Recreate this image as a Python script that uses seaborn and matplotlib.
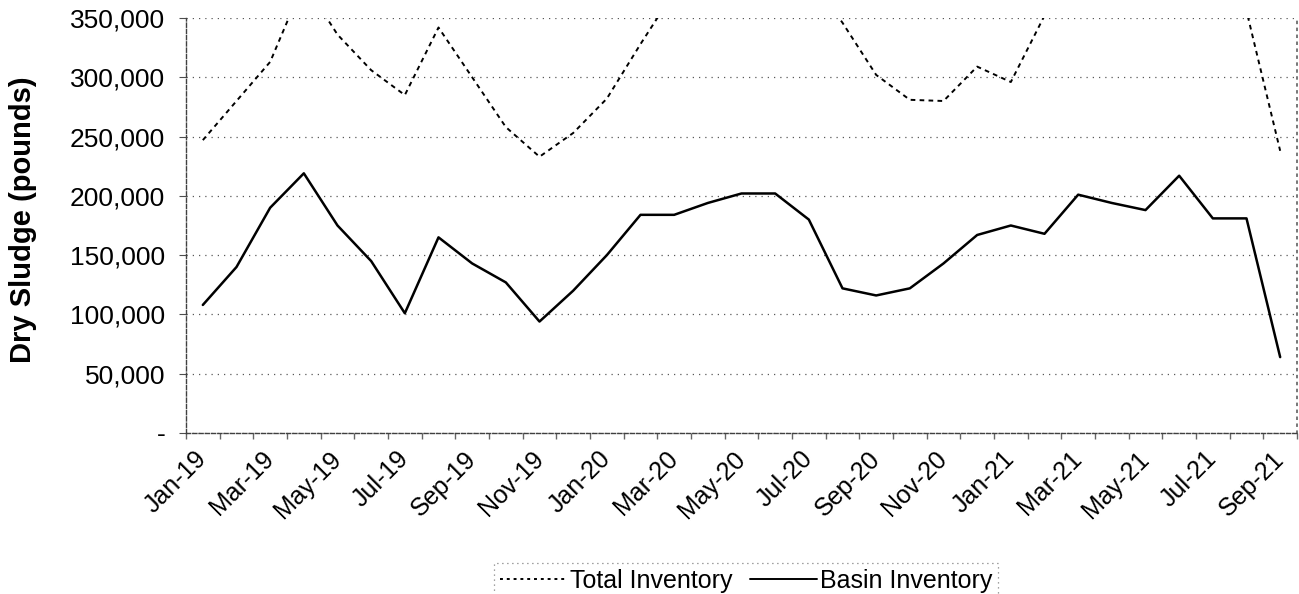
import matplotlib
matplotlib.use("Agg")
import matplotlib.pyplot as plt
import matplotlib.ticker as mticker
from matplotlib.lines import Line2D
import numpy as np
import pandas as pd
import seaborn as sns

# Monthly dry sludge inventory, Jan-19 .. Sep-21
months = pd.date_range("2019-01-01", periods=33, freq="MS").strftime("%b-%y").tolist()
total_inventory = [247000, 280000, 313000, 380000, 336000, 306000, 285000, 342000,
                   300000, 258000, 233000, 253000, 282000, 328000, 372000, 395000,
                   410000, 405000, 385000, 346000, 302000, 281000, 280000, 309000,
                   296000, 352000, 375000, 385000, 390000, 400000, 375000, 356000,
                   238000]
basin_inventory = [108000, 140000, 190000, 219000, 175000, 145000, 101000, 165000,
                   143000, 127000, 94000, 120000, 150000, 184000, 184000, 194000,
                   202000, 202000, 180000, 122000, 116000, 122000, 143000, 167000,
                   175000, 168000, 201000, 194000, 188000, 217000, 181000, 181000,
                   64000]
y_ticks = [0, 50000, 100000, 150000, 200000, 250000, 300000, 350000]

df = pd.DataFrame({"pos": np.arange(len(months)), "month": months,
                   "Total Inventory": total_inventory,
                   "Basin Inventory": basin_inventory})

sns.set_theme(style="white")
plt.rcParams["font.family"] = ["Liberation Sans", "DejaVu Sans"]
plt.rcParams["text.color"] = "black"
plt.rcParams["xtick.color"] = "black"
plt.rcParams["ytick.color"] = "black"
plt.rcParams["axes.labelcolor"] = "black"

fig = plt.figure(figsize=(12.99, 5.94), dpi=100)
ax = fig.add_axes([186 / 1299, 1 - 433 / 594, 1111 / 1299, 415 / 594])

sns.lineplot(data=df, x="pos", y="Total Inventory", ax=ax, color="black",
             lw=1.4, legend=False)
ax.lines[-1].set_dashes((2.4, 2.2))
sns.lineplot(data=df, x="pos", y="Basin Inventory", ax=ax, color="black",
             lw=1.8, legend=False)

ax.set_xlim(-0.5, len(months) - 0.5)
ax.set_ylim(0, 350000)

# y axis: Excel accounting style, zero shown as "-"
ax.set_yticks(y_ticks)
ax.yaxis.set_major_formatter(mticker.FuncFormatter(
    lambda v, p: "-" if v == 0 else f"{v:,.0f}"))
ax.tick_params(axis="y", labelsize=19, length=5, width=0.8, color="0.3",
               direction="out", pad=10, left=True)
ax.yaxis.grid(True, linestyle=(0, (1, 4)), color="0.35", lw=0.9)

# x axis: every other month, rotated labels
ax.set_xticks(df["pos"][::2])
ax.set_xticklabels(df["month"][::2], rotation=45, ha="right", va="center",
                   rotation_mode="anchor", fontsize=18)
ax.set_xticks(np.arange(-0.5, len(months), 1), minor=True)
ax.tick_params(axis="x", which="major", length=0, pad=16)
ax.tick_params(axis="x", which="minor", length=4, color="0.4", bottom=True)

ax.set_xlabel("")
ax.set_ylabel("Dry Sludge (pounds)", fontsize=21, fontweight="bold", va="center")
ax.yaxis.set_label_coords(-0.147, 0.513)

for side in ["left", "bottom"]:
    ax.spines[side].set_linestyle((0, (3, 1.5)))
    ax.spines[side].set_color("0.25")
    ax.spines[side].set_linewidth(1.0)
ax.spines["right"].set_linestyle((0, (1, 3)))
ax.spines["right"].set_color("0.4")
ax.spines["top"].set_visible(False)

handles = [Line2D([], [], color="black", lw=1.4, linestyle=(0, (1.5, 2))),
           Line2D([], [], color="black", lw=1.4)]
leg = fig.legend(handles, ["Total Inventory", "Basin Inventory"], ncol=2,
                 loc="upper center", bbox_to_anchor=(746 / 1299, 1 - 550 / 594),
                 fontsize=18, frameon=True, fancybox=False, handlelength=2.7,
                 handletextpad=0.1, columnspacing=0.7, borderpad=0.25)
frame = leg.get_frame()
frame.set_linestyle((0, (1, 3)))
frame.set_edgecolor("0.4")
frame.set_linewidth(0.9)

fig.savefig("out.png", dpi=100)
